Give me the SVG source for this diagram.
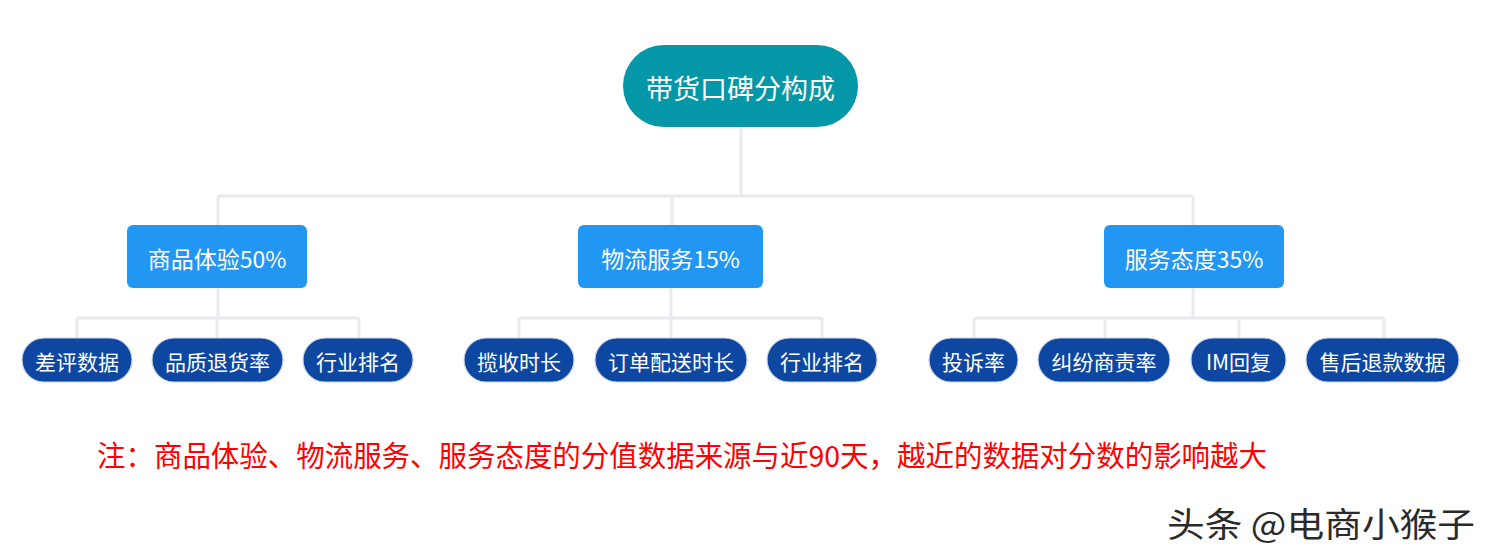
<svg xmlns="http://www.w3.org/2000/svg" width="1494" height="560" viewBox="0 0 1494 560">
<style>
text{font-family:"Noto Sans CJK SC","Noto Sans",sans-serif;dominant-baseline:central;text-anchor:middle;fill:#fff}
.root{fill:#0497A7}
.mid{fill:#2196F3}
.leaf{fill:#0D47A1;stroke:#c9d3e4;stroke-width:1.2}
.t1{font-size:27px}
.t2{font-size:23px}
.t3{font-size:21px}
.conn{fill:none;stroke:#E8EAED;stroke-width:3}
.note{font-size:29px;fill:#FF0000;text-anchor:start}
.wm{font-size:34px;fill:#2a2a2a;text-anchor:start}
</style>
<rect width="1494" height="560" fill="#fff"/>
<g id="connectors" class="conn">
<path d="M741 127V196M218 196H1193M218 196V225M672 196V225M1193 196V225"/>
<path d="M218 288V318M77 318H359M77 318V338M217 318V338M359 318V338"/>
<path d="M671 288V318M519 318H822M519 318V338M671 318V338M822 318V338"/>
<path d="M1193 288V318M974 318H1384M974 318V338M1105 318V338M1239 318V338M1384 318V338"/>
</g>
<g id="root"><rect class="root" x="623" y="45" width="235" height="82" rx="41"/><text class="t1" x="740.5" y="87">带货口碑分构成</text></g>
<g id="n1"><rect class="mid" x="127" y="225" width="180" height="63" rx="6"/><text class="t2" x="217" y="258">商品体验50%</text></g>
<g id="n2"><rect class="mid" x="578" y="225" width="185" height="63" rx="6"/><text class="t2" x="670.5" y="258">物流服务15%</text></g>
<g id="n3"><rect class="mid" x="1104" y="225" width="180" height="63" rx="6"/><text class="t2" x="1194" y="258">服务态度35%</text></g>
<g id="l1"><rect class="leaf" x="22" y="338" width="110" height="44" rx="22"/><text class="t3" x="77" y="361">差评数据</text></g>
<g id="l2"><rect class="leaf" x="152" y="338" width="131" height="44" rx="22"/><text class="t3" x="217.5" y="361">品质退货率</text></g>
<g id="l3"><rect class="leaf" x="303" y="338" width="110" height="44" rx="22"/><text class="t3" x="358" y="361">行业排名</text></g>
<g id="l4"><rect class="leaf" x="464" y="338" width="110" height="44" rx="22"/><text class="t3" x="519" y="361">揽收时长</text></g>
<g id="l5"><rect class="leaf" x="595" y="338" width="152" height="44" rx="22"/><text class="t3" x="671" y="361">订单配送时长</text></g>
<g id="l6"><rect class="leaf" x="767" y="338" width="110" height="44" rx="22"/><text class="t3" x="822" y="361">行业排名</text></g>
<g id="l7"><rect class="leaf" x="929" y="338" width="89" height="44" rx="22"/><text class="t3" x="973.5" y="361">投诉率</text></g>
<g id="l8"><rect class="leaf" x="1038" y="338" width="132" height="44" rx="22"/><text class="t3" x="1104" y="361">纠纷商责率</text></g>
<g id="l9"><rect class="leaf" x="1191" y="338" width="95" height="44" rx="22"/><text class="t3" x="1238.5" y="361">IM回复</text></g>
<g id="l10"><rect class="leaf" x="1306" y="338" width="153" height="44" rx="22"/><text class="t3" x="1382.5" y="361">售后退款数据</text></g>
<text class="note" x="97" y="454" textLength="1170" lengthAdjust="spacingAndGlyphs">注：商品体验、物流服务、服务态度的分值数据来源与近90天，越近的数据对分数的影响越大</text>
<text class="wm" x="1167" y="522" textLength="308" lengthAdjust="spacingAndGlyphs">头条 @电商小猴子</text>
</svg>
